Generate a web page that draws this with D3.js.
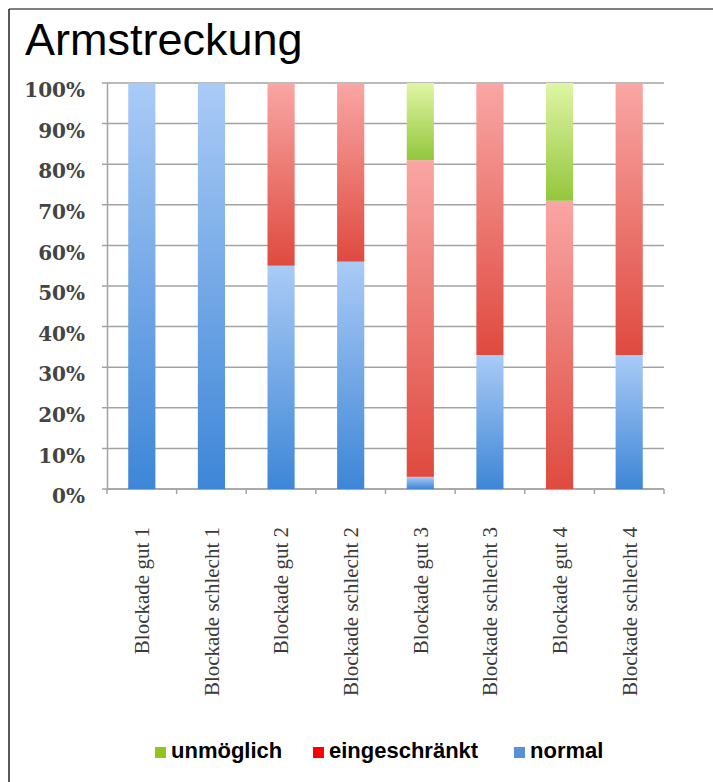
<!DOCTYPE html>
<html>
<head>
<meta charset="utf-8">
<script src="https://cdn.jsdelivr.net/npm/d3@7"></script>
<style>
  body { margin: 0; background: #fff; }
  svg { display: block; }
</style>
</head>
<body>
<div id="chart"></div>
<script>
// data (percent of patients)
var categories = ["Blockade gut 1", "Blockade schlecht 1", "Blockade gut 2", "Blockade schlecht 2",
                  "Blockade gut 3", "Blockade schlecht 3", "Blockade gut 4", "Blockade schlecht 4"];
var normal = [100, 100, 55, 56, 3, 33, 0, 33];
var eingeschraenkt = [0, 0, 45, 44, 78, 67, 71, 67];
var unmoeglich = [0, 0, 0, 0, 19, 0, 29, 0];
var yTicks = [0, 10, 20, 30, 40, 50, 60, 70, 80, 90, 100];
var legendItems = ["unmöglich", "eingeschränkt", "normal"];

var W = 713, H = 782;
var plot = {left: 107, right: 664, top: 83, bottom: 489};

var rows = categories.map(function(c, i) {
  return {cat: c, normal: normal[i], eingeschraenkt: eingeschraenkt[i], unmoeglich: unmoeglich[i]};
});
var keys = ["normal", "eingeschraenkt", "unmoeglich"];

// gradient stops per series: light on top, darker at bottom
var grads = {
  normal: ["#aacbf6", "#3d86d7"],
  eingeschraenkt: ["#f9a6a4", "#df4a3f"],
  unmoeglich: ["#e0f5a6", "#93c73b"]
};
var legendColor = {"unmöglich": "#92c41e", "eingeschränkt": "#ff0000", "normal": "#5a8fd4"};

var svg = d3.select("#chart").append("svg")
  .attr("width", W)
  .attr("height", H);

var defs = svg.append("defs");
keys.forEach(function(k) {
  var g = defs.append("linearGradient")
    .attr("id", "grad-" + k)
    .attr("x1", 0).attr("y1", 0).attr("x2", 0).attr("y2", 1);
  g.append("stop").attr("offset", "0%").attr("stop-color", grads[k][0]);
  g.append("stop").attr("offset", "100%").attr("stop-color", grads[k][1]);
});

// frame lines (top and left only)
svg.append("line")
  .attr("x1", 9).attr("y1", 9).attr("x2", W).attr("y2", 9)
  .attr("stroke", "#555").attr("stroke-width", 1.5);
svg.append("line")
  .attr("x1", 9).attr("y1", 9).attr("x2", 9).attr("y2", H)
  .attr("stroke", "#222").attr("stroke-width", 1.5);

svg.append("text")
  .attr("x", 25).attr("y", 55)
  .style("font", "45px 'Liberation Sans', Arial, sans-serif")
  .attr("fill", "#000")
  .text("Armstreckung");

var slots = d3.scaleBand().domain(categories).range([plot.left, plot.right]).padding(0);
var x = d3.scaleBand().domain(categories).range([plot.left, plot.right])
  .paddingInner(0.61).paddingOuter(0.305);
var y = d3.scaleLinear().domain([0, 100]).range([plot.bottom, plot.top]);

// gridlines
svg.append("g").selectAll("line")
  .data(yTicks)
  .enter().append("line")
    .attr("x1", plot.left - 5).attr("x2", plot.right)
    .attr("y1", function(d) { return y(d); })
    .attr("y2", function(d) { return y(d); })
    .attr("stroke", "#a3a3a3")
    .attr("stroke-width", 1.5);

// y axis
var yAxis = svg.append("g")
  .attr("transform", "translate(" + plot.left + ",0)")
  .call(d3.axisLeft(y).tickValues(yTicks).tickSize(0).tickPadding(22)
    .tickFormat(function(d) { return d + "%"; }));
yAxis.select(".domain").attr("stroke", "#a3a3a3").attr("stroke-width", 1.5);
yAxis.selectAll("text")
  .attr("dy", "0.68em")
  .attr("fill", "#444")
  .style("font", "bold 20px 'DejaVu Serif', serif");

// x axis with ticks on slot boundaries
var xAxis = svg.append("g")
  .attr("transform", "translate(0," + plot.bottom + ")");
xAxis.append("line")
  .attr("x1", plot.left).attr("x2", plot.right)
  .attr("stroke", "#a3a3a3").attr("stroke-width", 1.5);
var bounds = categories.map(function(c) { return slots(c); }).concat([plot.right]);
xAxis.selectAll("line.tick")
  .data(bounds)
  .enter().append("line")
    .attr("class", "tick")
    .attr("x1", function(d) { return d; }).attr("x2", function(d) { return d; })
    .attr("y1", 0).attr("y2", 5)
    .attr("stroke", "#a3a3a3").attr("stroke-width", 1.5);

xAxis.selectAll("text")
  .data(categories)
  .enter().append("text")
    .attr("transform", function(d) {
      return "translate(" + (slots(d) + slots.bandwidth() / 2) + ",38) rotate(-90)";
    })
    .attr("dy", "0.35em")
    .attr("text-anchor", "end")
    .attr("fill", "#3a3a3a")
    .style("font", "21px 'Liberation Serif', 'Times New Roman', serif")
    .text(function(d) { return d; });

// stacked bars
var series = d3.stack().keys(keys)(rows);
svg.append("g").selectAll("g")
  .data(series)
  .enter().append("g")
    .attr("fill", function(d) { return "url(#grad-" + d.key + ")"; })
  .selectAll("rect")
  .data(function(d) { return d.filter(function(p) { return p[1] - p[0] > 0; }); })
  .enter().append("rect")
    .attr("x", function(d) { return x(d.data.cat); })
    .attr("width", x.bandwidth())
    .attr("y", function(d) { return y(d[1]); })
    .attr("height", function(d) { return y(d[0]) - y(d[1]); });

// legend
var legendX = [155, 313, 514];
var legend = svg.append("g").selectAll("g")
  .data(legendItems)
  .enter().append("g")
    .attr("transform", function(d, i) { return "translate(" + legendX[i] + ",747)"; });
legend.append("rect")
  .attr("width", 11).attr("height", 11)
  .attr("fill", function(d) { return legendColor[d]; });
legend.append("text")
  .attr("x", 16).attr("y", 11)
  .style("font", "bold 22px 'Liberation Sans', Arial, sans-serif")
  .attr("fill", "#000")
  .text(function(d) { return d; });
</script>
</body>
</html>
